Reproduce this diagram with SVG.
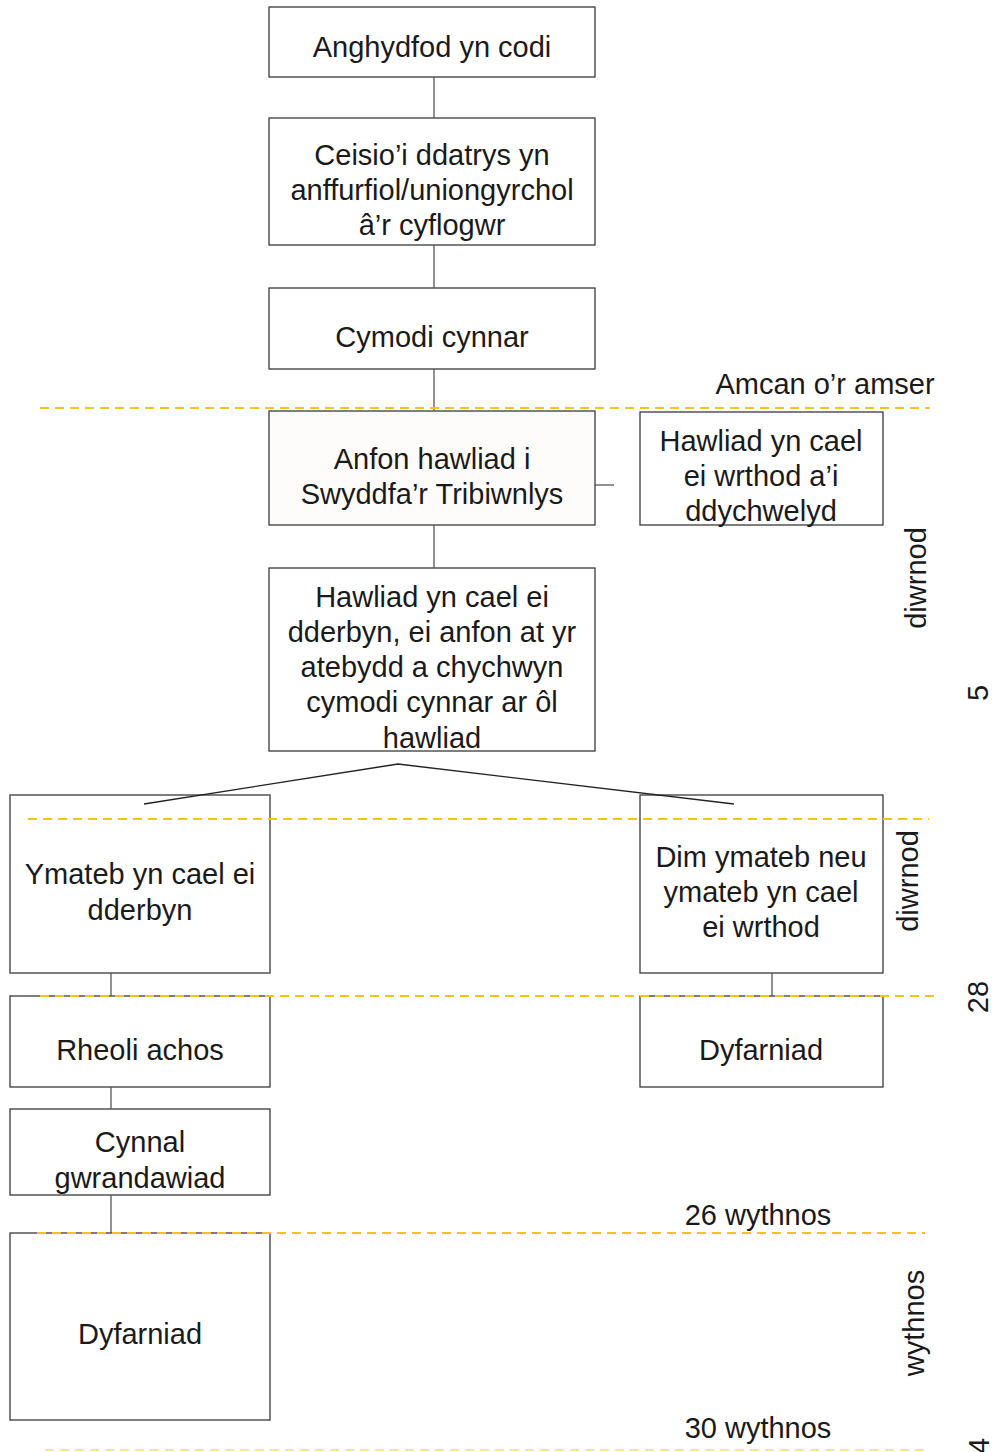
<svg xmlns="http://www.w3.org/2000/svg" width="994" height="1452" viewBox="0 0 994 1452">
<style>
.box{fill:#ffffff;stroke:#3a3a3a;stroke-width:1.3}
.t{font-family:"Liberation Sans",Arial,sans-serif;font-size:29px;fill:#1a1a1a;text-anchor:middle}
.c{stroke:#555555;stroke-width:1.3;fill:none}
.d{stroke:#f6c31c;stroke-width:2;stroke-dasharray:9 6;fill:none}
</style>
<rect width="994" height="1452" fill="#ffffff"/>
<g id="n1"><rect class="box" x="269" y="7" width="326" height="70"/><text class="t" x="432" y="57">Anghydfod yn codi</text></g>
<g id="n2"><rect class="box" x="269" y="118" width="326" height="127"/><text class="t" x="432" y="165">Ceisio’i ddatrys yn</text><text class="t" x="432" y="200">anffurfiol/uniongyrchol</text><text class="t" x="432" y="235">â’r cyflogwr</text></g>
<g id="n3"><rect class="box" x="269" y="288" width="326" height="81"/><text class="t" x="432" y="347">Cymodi cynnar</text></g>
<g id="n4"><rect class="box" x="269" y="411" width="326" height="114" style="fill:#fdfcfa"/><text class="t" x="432" y="469">Anfon hawliad i</text><text class="t" x="432" y="504">Swyddfa’r Tribiwnlys</text></g>
<g id="n5"><rect class="box" x="640" y="412" width="243" height="113"/><text class="t" x="761" y="451">Hawliad yn cael</text><text class="t" x="761" y="486">ei wrthod a’i</text><text class="t" x="761" y="521">ddychwelyd</text></g>
<g id="n6"><rect class="box" x="269" y="568" width="326" height="183"/><text class="t" x="432" y="607">Hawliad yn cael ei</text><text class="t" x="432" y="642">dderbyn, ei anfon at yr</text><text class="t" x="432" y="677">atebydd a chychwyn</text><text class="t" x="432" y="712">cymodi cynnar ar ôl</text><text class="t" x="432" y="748">hawliad</text></g>
<g id="n7"><rect class="box" x="10" y="795" width="260" height="178"/><text class="t" x="140" y="884">Ymateb yn cael ei</text><text class="t" x="140" y="920">dderbyn</text></g>
<g id="n8"><rect class="box" x="640" y="795" width="243" height="178"/><text class="t" x="761" y="867">Dim ymateb neu</text><text class="t" x="761" y="902">ymateb yn cael</text><text class="t" x="761" y="937">ei wrthod</text></g>
<g id="n9"><rect class="box" x="10" y="996" width="260" height="91"/><text class="t" x="140" y="1060">Rheoli achos</text></g>
<g id="n10"><rect class="box" x="640" y="996" width="243" height="91"/><text class="t" x="761" y="1060">Dyfarniad</text></g>
<g id="n11"><rect class="box" x="10" y="1109" width="260" height="86"/><text class="t" x="140" y="1152">Cynnal</text><text class="t" x="140" y="1188">gwrandawiad</text></g>
<g id="n12"><rect class="box" x="10" y="1233" width="260" height="187"/><text class="t" x="140" y="1344">Dyfarniad</text></g>
<g id="connectors">
<line class="c" x1="434" y1="77" x2="434" y2="118"/>
<line class="c" x1="434" y1="245" x2="434" y2="288"/>
<line class="c" x1="434" y1="369" x2="434" y2="411"/>
<line class="c" x1="595" y1="485" x2="614" y2="485"/>
<line class="c" x1="434" y1="525" x2="434" y2="568"/>
<polyline class="c" points="144,804 398,764 734,804" style="stroke:#222"/>
<line class="c" x1="111" y1="973" x2="111" y2="996"/>
<line class="c" x1="772" y1="973" x2="772" y2="996"/>
<line class="c" x1="111" y1="1087" x2="111" y2="1109"/>
<line class="c" x1="111" y1="1195" x2="111" y2="1233"/>
</g>
<g id="timeline">
<line class="d" x1="40" y1="408" x2="930" y2="408"/>
<line class="d" x1="28" y1="819" x2="929" y2="819"/>
<line class="d" x1="40" y1="996" x2="940" y2="996"/>
<line class="d" x1="37" y1="1233" x2="925" y2="1233"/>
<line class="d" x1="45" y1="1450" x2="925" y2="1450" style="opacity:0.6;stroke-width:1.5"/>
<text class="t" x="825" y="394">Amcan o’r amser</text>
<text class="t" x="758" y="1225">26 wythnos</text>
<text class="t" x="758" y="1438">30 wythnos</text>
<text class="t" transform="translate(926,578) rotate(-90)">diwrnod</text>
<text class="t" transform="translate(918,881) rotate(-90)">diwrnod</text>
<text class="t" transform="translate(924,1323) rotate(-90)">wythnos</text>
<text class="t" transform="translate(988,693) rotate(-90)">5</text>
<text class="t" transform="translate(988,997) rotate(-90)">28</text>
<text class="t" transform="translate(989,1446) rotate(-90)">4</text>
</g>
</svg>
